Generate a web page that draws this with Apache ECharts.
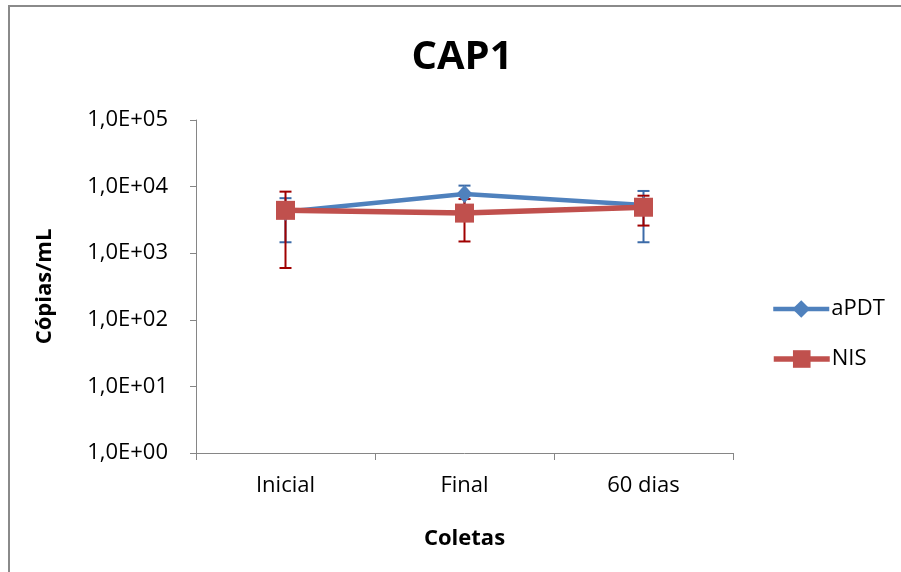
<!DOCTYPE html>
<html>
<head>
<meta charset="utf-8">
<script src="https://cdn.jsdelivr.net/npm/echarts@6/dist/echarts.min.js"></script>
<style>
html,body{margin:0;padding:0;background:#fff;}
#c{width:901px;height:572px;}
</style>
</head>
<body>
<div id="c"></div>
<script>
// ---- data ----
const categories = ['Inicial', 'Final', '60 dias'];
const aPDT = [4200, 7750, 5300];
const aPDTLow = [1460, 5200, 1460];
const aPDTHigh = [6700, 10350, 8600];
const NIS = [4400, 4000, 4900];
const NISLow = [600, 1500, 2600];
const NISHigh = [8400, 6500, 7300];
const yTickLabels = ['1,0E+00', '1,0E+01', '1,0E+02', '1,0E+03', '1,0E+04', '1,0E+05'];

const FONT = 'Open Sans';
const chart = echarts.init(document.getElementById('c'));

function errSeries(name, low, high, color) {
  return {
    type: 'custom',
    name: name + ' err',
    z: 1,
    silent: true,
    data: categories.map((c, i) => [i, low[i], high[i]]),
    renderItem: function (params, api) {
      const i = api.value(0);
      const pLow = api.coord([i, api.value(1)]);
      const pHigh = api.coord([i, api.value(2)]);
      const hw = 6;
      const st = {stroke: color, lineWidth: 2};
      return {
        type: 'group',
        children: [
          {type: 'line', shape: {x1: pLow[0], y1: pLow[1], x2: pHigh[0], y2: pHigh[1]}, style: st},
          {type: 'line', shape: {x1: pLow[0] - hw, y1: pLow[1], x2: pLow[0] + hw, y2: pLow[1]}, style: st},
          {type: 'line', shape: {x1: pHigh[0] - hw, y1: pHigh[1], x2: pHigh[0] + hw, y2: pHigh[1]}, style: st}
        ]
      };
    }
  };
}

function legendFor(name, top, width) {
  return {
    data: [name], left: 766, top: top, orient: 'vertical', itemWidth: 56, itemHeight: 22,
    selectedMode: false,
    lineStyle: {width: width},
    textStyle: {fontFamily: FONT, fontSize: 22, color: '#000', padding: [0, 0, 0, -3]}
  };
}

const option = {
  backgroundColor: '#fff',
  animation: false,
  title: {
    text: 'CAP1',
    left: 457, top: 33, textAlign: 'center',
    textStyle: {fontFamily: FONT, fontSize: 40, fontWeight: 'bold', color: '#000'}
  },
  graphic: [{
    type: 'rect', shape: {x: 9, y: 6, width: 1000, height: 1000},
    style: {fill: 'none', stroke: '#8a8a8a', lineWidth: 2}, silent: true, z: -10
  }],
  legend: [legendFor('aPDT', 293, 4.5), legendFor('NIS', 343, 5.5)],
  grid: {left: 196, right: 168, top: 120, bottom: 119, containLabel: false},
  xAxis: {
    type: 'category', data: categories, boundaryGap: true,
    name: 'Coletas', nameLocation: 'middle', nameGap: 75,
    nameTextStyle: {fontFamily: FONT, fontSize: 22, fontWeight: 'bold', color: '#000'},
    axisLine: {lineStyle: {color: '#868686', width: 1}},
    axisTick: {show: true, length: 7, lineStyle: {color: '#868686'}},
    axisLabel: {fontFamily: FONT, fontSize: 22, color: '#000', margin: 22}
  },
  yAxis: {
    type: 'log', logBase: 10, min: 1, max: 100000,
    name: 'Cópias/mL', nameLocation: 'middle', nameGap: 140, nameRotate: 90,
    nameTextStyle: {fontFamily: FONT, fontSize: 22, fontWeight: 'bold', color: '#000'},
    axisLine: {show: true, lineStyle: {color: '#868686', width: 1}},
    axisTick: {show: true, length: 6, lineStyle: {color: '#868686'}},
    splitLine: {show: false},
    axisLabel: {
      fontFamily: FONT, fontSize: 22, color: '#000', margin: 28,
      formatter: function (v) { return yTickLabels[Math.round(Math.log10(v))]; }
    }
  },
  series: [
    errSeries('aPDT', aPDTLow, aPDTHigh, '#3c6ba8'),
    errSeries('NIS', NISLow, NISHigh, '#a00000'),
    {
      type: 'line', name: 'aPDT', data: aPDT, z: 3,
      symbol: 'diamond', symbolSize: [16, 18],
      lineStyle: {color: '#4f81bd', width: 4.5},
      itemStyle: {color: '#4f81bd'}
    },
    {
      type: 'line', name: 'NIS', data: NIS, z: 4,
      symbol: 'rect', symbolSize: 19,
      lineStyle: {color: '#c0504d', width: 5.5},
      itemStyle: {color: '#c0504d'}
    }
  ]
};
chart.setOption(option);
</script>
</body>
</html>
